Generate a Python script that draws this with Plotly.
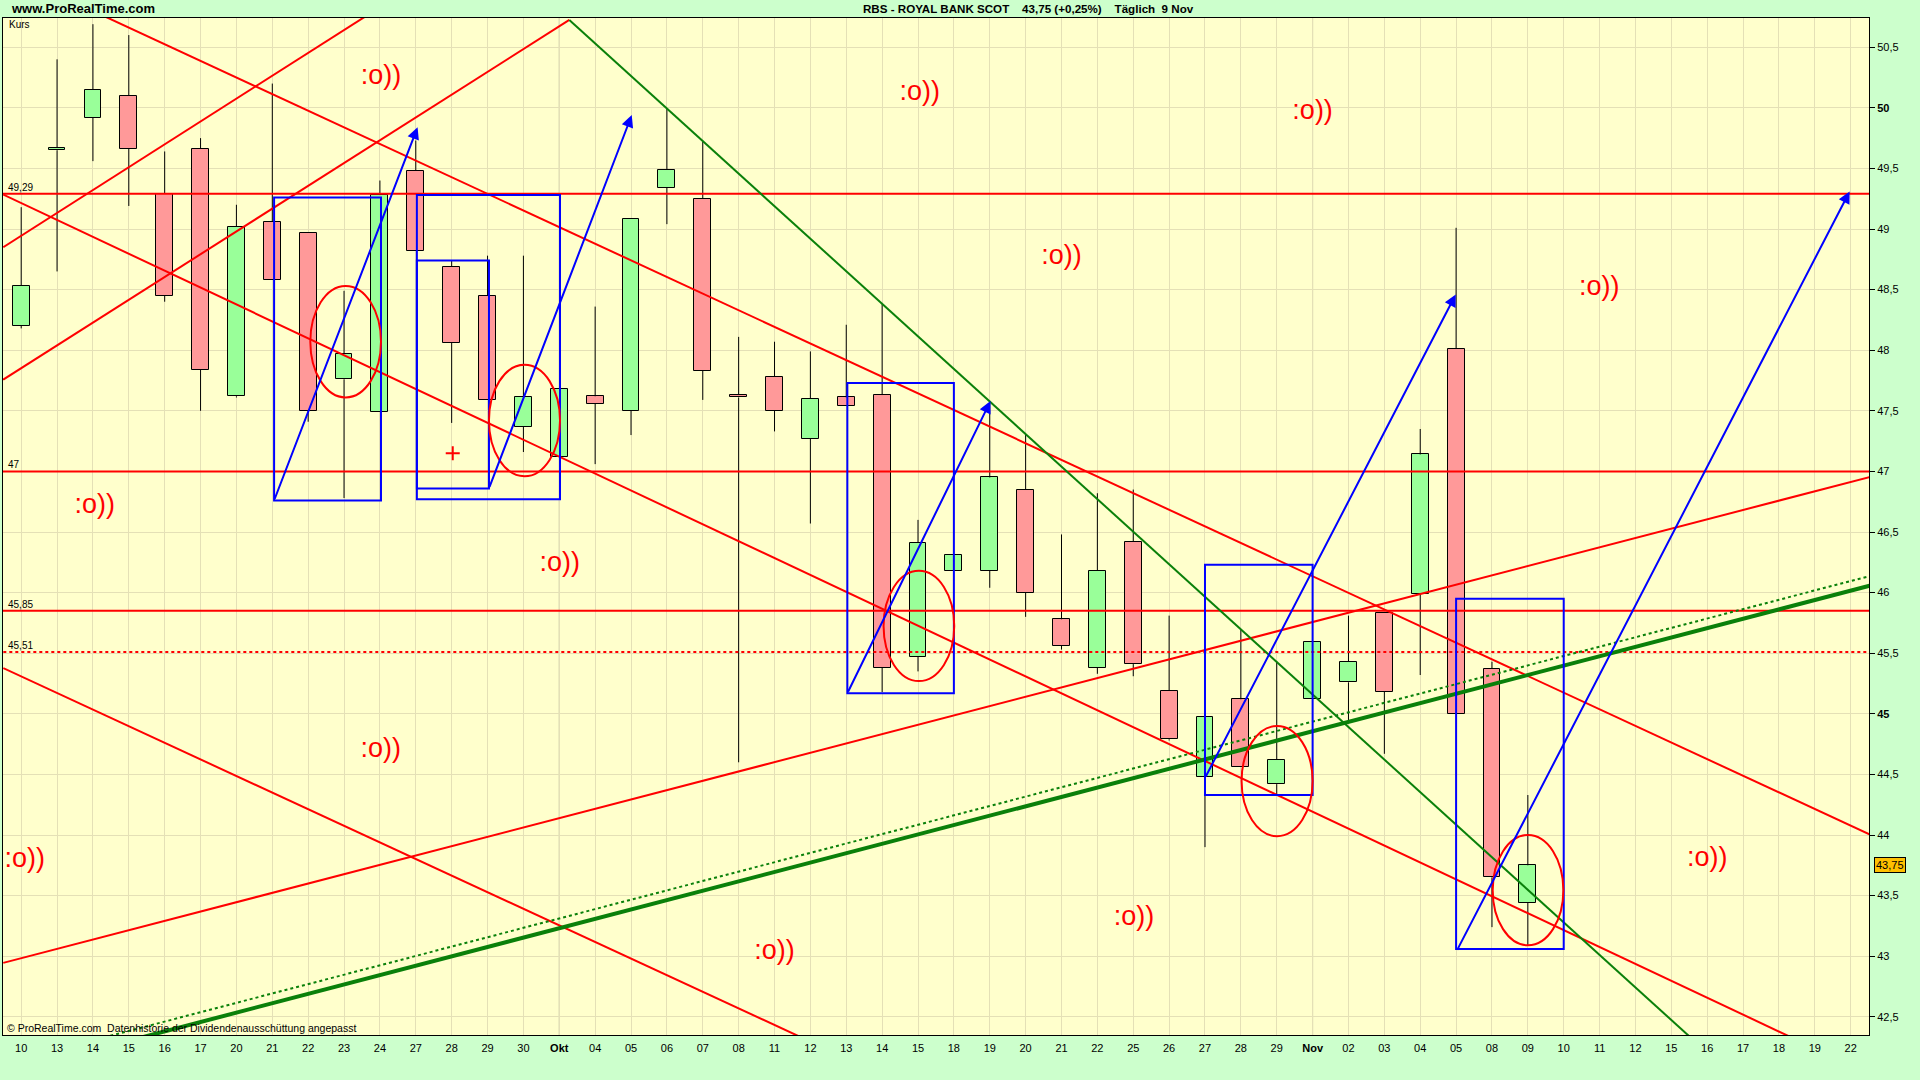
import plotly.graph_objects as go

# ---------------- data ----------------
labels = ["10", "13", "14", "15", "16", "17", "20", "21", "22", "23", "24", "27", "28", "29", "30",
          "Okt", "04", "05", "06", "07", "08", "11", "12", "13", "14", "15", "18", "19", "20", "21",
          "22", "25", "26", "27", "28", "29", "Nov", "02", "03", "04", "05", "08", "09", "10", "11",
          "12", "15", "16", "17", "18", "19", "22"]

opens = [48.20, 49.65, 49.92, 50.10, 49.29, 49.66, 47.62, 49.06, 48.97, 47.76, 47.49, 49.48, 48.69, 48.45,
         47.37, 47.12, 47.62, 47.50, 49.34, 49.25, 47.63, 47.78, 47.27, 47.61, 47.63, 45.47, 46.18, 46.18,
         46.85, 45.78, 45.38, 46.42, 45.19, 44.48, 45.12, 44.42, 45.12, 45.26, 45.83, 45.99, 48.01, 45.37,
         43.44]
highs = [49.18, 50.40, 50.69, 50.60, 49.64, 49.75, 49.20, 50.20, 48.97, 48.49, 49.40, 49.73, 48.74, 48.78,
         48.78, 47.68, 48.36, 49.08, 49.99, 49.72, 48.11, 48.07, 47.99, 48.21, 48.38, 46.60, 46.31, 47.58,
         47.30, 46.48, 46.82, 46.85, 45.81, 44.97, 45.70, 45.43, 45.59, 45.81, 45.83, 47.35, 49.01, 45.43,
         44.33]
lows = [48.18, 48.65, 49.56, 49.19, 48.40, 47.50, 47.61, 48.58, 47.41, 46.78, 47.49, 48.82, 47.40, 47.59,
        47.16, 47.12, 47.06, 47.30, 49.04, 47.59, 44.60, 47.33, 46.57, 47.54, 45.18, 45.35, 46.18, 46.04,
        45.80, 45.53, 45.33, 45.31, 44.78, 43.90, 44.56, 44.33, 45.12, 44.94, 44.67, 45.32, 45.00, 43.24,
        43.09]
closes = [48.53, 49.67, 50.15, 49.66, 48.45, 47.84, 49.02, 48.58, 47.50, 47.97, 49.28, 48.82, 48.06, 47.59,
          47.61, 47.68, 47.56, 49.08, 49.49, 47.83, 47.61, 47.50, 47.60, 47.54, 45.38, 46.41, 46.31, 46.95,
          46.00, 45.56, 46.18, 45.41, 44.79, 44.97, 44.56, 44.62, 45.59, 45.43, 45.18, 47.14, 45.00, 43.65,
          43.75]

y_ticks = [42.5, 43.0, 43.5, 44.0, 44.5, 45.0, 45.5, 46.0, 46.5, 47.0, 47.5, 48.0, 48.5, 49.0, 49.5, 50.0, 50.5]
bold_y = [45.0, 50.0]
month_starts = ["Okt", "Nov"]

# horizontal levels
h_solid = [49.29, 47.0, 45.85]
h_dotted = [45.51]

# trend lines (x = trading-day index, y = price)
red_trends = [
    (-0.5, 51.142, 52.0, 43.94),
    (-0.5, 49.284, 52.0, 41.96),
    (-0.5, 45.377, 30.0, 41.20),
    (-0.5, 48.850, 10.0, 50.83),
    (-0.5, 47.758, 15.28, 50.725),
    (-0.5, 42.945, 52.0, 46.99),
]
green_trend = (15.28, 50.725, 47.0, 42.205)
green_thick = (2.0, 42.225, 52.0, 46.094)
green_dotted = (2.0, 42.306, 52.0, 46.173)

# blue boxes (x0, x1, y0, y1)
boxes = [
    (7.05, 10.03, 46.76, 49.26),
    (11.03, 15.02, 46.77, 49.28),
    (11.03, 13.04, 46.86, 48.74),
    (23.03, 26.00, 45.17, 47.73),
    (33.00, 36.00, 44.33, 46.23),
    (40.00, 43.00, 43.06, 45.95),
]
# blue arrows (start x, start y, tip x, tip y)
arrows = [
    (7.05, 46.76, 11.05, 49.84),
    (13.04, 46.86, 17.02, 49.94),
    (23.03, 45.17, 27.02, 47.58),
    (33.00, 44.47, 39.99, 48.46),
    (40.01, 43.04, 50.97, 49.31),
]
# red ellipses (x0, x1, y0, y1)
ellipses = [
    (8.06, 10.03, 47.61, 48.53),
    (13.04, 15.02, 46.96, 47.88),
    (24.04, 26.01, 45.27, 46.18),
    (34.02, 36.00, 43.99, 44.90),
    (41.02, 42.99, 43.09, 44.00),
]
smiley_x = [10.03, 25.05, 36.0, 29.0, 43.99, 2.05, 15.01, 10.02, 0.1, 21.0, 31.02, 47.0]
smiley_y = [50.25, 50.12, 49.96, 48.77, 48.51, 46.71, 46.23, 44.70, 43.79, 43.03, 43.31, 43.80]
cross_x = [12.03]
cross_y = [47.15]
last_price = 43.75

# ---------------- styling ----------------
FONT = "Liberation Sans, Arial, sans-serif"
INC = "#99FF99"
DEC = "#FF9999"
RED = "#FF0000"
BLUE = "#0000FF"
DGREEN = "#0A800A"
GRID = "#E4E0B6"

W, H = 1920, 1080
ML, MR, MT, MB = 3, 51, 18, 45
PW, PH = W - ML - MR, H - MT - MB


def paper_x(px):
    return (px - ML) / PW


def paper_y(py):
    return (H - MB - py) / PH


fig = go.Figure()

idx = list(range(len(opens)))
base = [min(o, c) for o, c in zip(opens, closes)]
height = [max(abs(c - o), 0.012) for o, c in zip(opens, closes)]
colors = [INC if c >= o else DEC for o, c in zip(opens, closes)]

fig.add_trace(go.Bar(x=idx, y=height, base=base, width=0.47,
                     marker=dict(color=colors, line=dict(color="black", width=1)),
                     hoverinfo="skip", showlegend=False))

wx, wy = [], []
for i, o, h, l, c in zip(idx, opens, highs, lows, closes):
    top, bot = max(o, c), min(o, c)
    if h > top:
        wx += [i, i, None]
        wy += [h, top, None]
    if l < bot:
        wx += [i, i, None]
        wy += [bot, l, None]
fig.add_trace(go.Scatter(x=wx, y=wy, mode="lines", line=dict(color="black", width=1),
                         hoverinfo="skip", showlegend=False))

# horizontal lines
for v in h_solid:
    fig.add_trace(go.Scatter(x=[-1, 53], y=[v, v], mode="lines", line=dict(color=RED, width=2),
                             hoverinfo="skip", showlegend=False))
for v in h_dotted:
    fig.add_trace(go.Scatter(x=[-1, 53], y=[v, v], mode="lines", line=dict(color=RED, width=2, dash="dot"),
                             hoverinfo="skip", showlegend=False))

# trend lines
for (x0, y0, x1, y1) in red_trends:
    fig.add_trace(go.Scatter(x=[x0, x1], y=[y0, y1], mode="lines", line=dict(color=RED, width=2),
                             hoverinfo="skip", showlegend=False))
x0, y0, x1, y1 = green_trend
fig.add_trace(go.Scatter(x=[x0, x1], y=[y0, y1], mode="lines", line=dict(color=DGREEN, width=2),
                         hoverinfo="skip", showlegend=False))
x0, y0, x1, y1 = green_dotted
fig.add_trace(go.Scatter(x=[x0, x1], y=[y0, y1], mode="lines", line=dict(color=DGREEN, width=2, dash="dot"),
                         hoverinfo="skip", showlegend=False))
x0, y0, x1, y1 = green_thick
fig.add_trace(go.Scatter(x=[x0, x1], y=[y0, y1], mode="lines", line=dict(color=DGREEN, width=4),
                         hoverinfo="skip", showlegend=False))

# smileys
fig.add_trace(go.Scatter(x=smiley_x, y=smiley_y, mode="text", text=[":o))"] * len(smiley_x),
                         textposition="middle center",
                         textfont=dict(family=FONT, size=27, color=RED),
                         cliponaxis=True, hoverinfo="skip", showlegend=False))

# red cross
fig.add_trace(go.Scatter(x=cross_x, y=cross_y, mode="markers",
                         marker=dict(symbol="cross-thin", size=10, line=dict(color=RED, width=2)),
                         hoverinfo="skip", showlegend=False))

shapes = []
for lab in month_starts:
    xi = labels.index(lab)
    shapes.append(dict(type="line", xref="x", yref="paper", x0=xi, x1=xi, y0=0, y1=1,
                       line=dict(color="#B2B298", width=1), layer="below"))
for (bx0, bx1, by0, by1) in boxes:
    shapes.append(dict(type="rect", xref="x", yref="y", x0=bx0, x1=bx1, y0=by0, y1=by1,
                       line=dict(color=BLUE, width=2)))
for (ex0, ex1, ey0, ey1) in ellipses:
    shapes.append(dict(type="circle", xref="x", yref="y", x0=ex0, x1=ex1, y0=ey0, y1=ey1,
                       line=dict(color=RED, width=2)))

annotations = []
for (sx, sy, tx, ty) in arrows:
    annotations.append(dict(x=tx, y=ty, ax=sx, ay=sy, xref="x", yref="y", axref="x", ayref="y",
                            text="", showarrow=True, arrowhead=2, arrowsize=1.2, arrowwidth=2,
                            arrowcolor=BLUE))


def fmt(v):
    s = f"{v:g}".replace(".", ",")
    return s


for v in h_solid + h_dotted:
    annotations.append(dict(x=paper_x(6), y=v, xref="paper", yref="y", text=fmt(v), showarrow=False,
                            xanchor="left", yanchor="bottom", yshift=-1,
                            font=dict(family=FONT, size=10, color="black")))

annotations.append(dict(x=paper_x(7), y=paper_y(24.5), xref="paper", yref="paper", text="Kurs",
                        showarrow=False, xanchor="left", yanchor="middle",
                        font=dict(family=FONT, size=10, color="black")))
annotations.append(dict(x=paper_x(5), y=paper_y(1028), xref="paper", yref="paper",
                        text="© ProRealTime.com\u00a0 Datenhistorie der Dividendenausschüttung angepasst",
                        showarrow=False, xanchor="left", yanchor="middle",
                        font=dict(family=FONT, size=10.5, color="black")))
annotations.append(dict(x=paper_x(9), y=paper_y(9), xref="paper", yref="paper",
                        text="<b>www.ProRealTime.com</b>",
                        showarrow=False, xanchor="left", yanchor="middle",
                        font=dict(family=FONT, size=13, color="black")))
annotations.append(dict(x=paper_x(1028), y=paper_y(9), xref="paper", yref="paper",
                        text="<b>RBS - ROYAL BANK SCOT\u00a0\u00a0\u00a0\u00a043,75 (+0,25%)\u00a0\u00a0\u00a0\u00a0Täglich\u00a0\u00a09 Nov</b>",
                        showarrow=False, xanchor="center", yanchor="middle",
                        font=dict(family=FONT, size=11.6, color="black")))
annotations.append(dict(x=1, y=last_price, xref="paper", yref="y", text=fmt(last_price),
                        showarrow=False, xanchor="left", yanchor="middle", xshift=5,
                        bgcolor="#FFC000", bordercolor="black", borderwidth=1, borderpad=1,
                        font=dict(family=FONT, size=11, color="black")))

ticktext_x = [f"<b>{l}</b>" if l in month_starts else l for l in labels]
ticktext_y = [f"<b>{fmt(v)}</b>" if v in bold_y else fmt(v) for v in y_ticks]

fig.update_layout(
    width=W, height=H, autosize=False,
    margin=dict(l=ML, r=MR, t=MT, b=MB, pad=0),
    paper_bgcolor="#CCFFCC", plot_bgcolor="#FFFFCC",
    showlegend=False, bargap=0,
    font=dict(family=FONT, size=11, color="black"),
    shapes=shapes, annotations=annotations,
    xaxis=dict(range=[-0.507, 51.51], tickmode="array", tickvals=list(range(len(labels))),
               ticktext=ticktext_x, showgrid=True, gridcolor=GRID, gridwidth=1,
               showline=True, linecolor="black", linewidth=1, mirror=True,
               ticks="outside", ticklen=3, tickcolor="rgba(0,0,0,0)",
               zeroline=False, tickfont=dict(family=FONT, size=11), fixedrange=True),
    yaxis=dict(range=[42.35, 50.741], side="right", tickmode="array", tickvals=y_ticks,
               ticktext=ticktext_y, showgrid=True, gridcolor=GRID, gridwidth=1,
               showline=True, linecolor="black", linewidth=1, mirror=True,
               ticks="outside", ticklen=5, tickcolor="black",
               zeroline=False, tickfont=dict(family=FONT, size=11), fixedrange=True),
)

fig.write_html("out.html", config={"displayModeBar": False},
               post_script="document.body.style.margin='0';document.body.style.overflow='hidden';")
